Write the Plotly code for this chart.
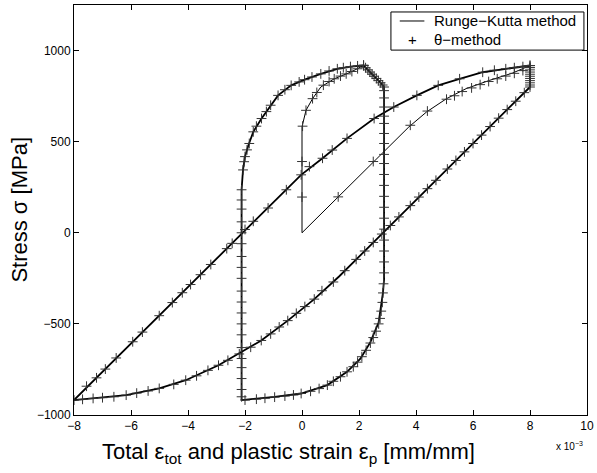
import plotly.graph_objects as go

# strain values in units of 1e-3 mm/mm, stress in MPa
# ---- Runge-Kutta line: initial loading (thin) ----
init_plastic_x = [0, 0, 0.14, 0.37, 0.66, 1.13, 1.70, 2.16]
init_plastic_y = [0, 581, 672, 736, 800, 845, 881, 918]
init_total_x = [0, 3.75, 4.37, 5.07, 5.76, 6.57, 7.38, 8.0]
init_total_y = [0, 581, 663, 736, 791, 836, 876, 918]

# ---- hold (relaxation) at max strain ----
hold_plastic_x = [2.16, 2.23, 2.31, 2.38, 2.46, 2.53, 2.61, 2.68, 2.76, 2.83, 2.88]
hold_plastic_y = [918, 906, 894, 882, 870, 859, 847, 835, 823, 811, 800]
hold_total_x = [8.0, 8.0, 8.0, 8.0, 8.0, 8.0, 8.0, 8.0, 8.0, 8.0, 8.0]
hold_total_y = [918, 906, 894, 882, 870, 859, 847, 835, 823, 811, 800]

# ---- unloading / compression ----
unl_plastic_x = [2.88, 2.88, 2.84, 2.80, 2.69, 2.40, 2.05, 1.58, 0.89, -0.03, -0.96, -2.12]
unl_plastic_y = [800, -255, -330, -382, -491, -600, -691, -763, -836, -882, -900, -918]
unl_total_x = [8.0, 1.3, 0.43, -0.5, -1.43, -2.93, -4.08, -5.01, -6.17, -7.33, -8.0]
unl_total_y = [800, -240, -364, -482, -591, -727, -809, -854, -891, -909, -918]

# ---- reloading ----
rel_plastic_x = [-2.12, -2.12, -2.07, -2.0, -1.88, -1.71, -1.42, -1.1, -0.84, -0.38, 0.09, 0.66, 1.24, 1.70, 2.16]
rel_plastic_y = [-918, 236, 345, 418, 480, 554, 627, 700, 754, 809, 840, 872, 900, 912, 918]
rel_total_x = [-8.0, -0.55, -0.03, 0.72, 1.58, 2.53, 3.22, 4.03, 4.78, 5.53, 6.34, 7.15, 8.0]
rel_total_y = [-918, 236, 318, 409, 518, 627, 690, 754, 809, 845, 881, 900, 918]

# ---- theta-method markers ----
mk_init_plastic_x = [0, 0, 0.02, 0.14, 0.37, 0.52, 0.75, 0.95, 1.13, 1.35, 1.55, 1.75, 1.95, 2.16]
mk_init_plastic_y = [196, 391, 585, 672, 736, 770, 810, 830, 845, 860, 872, 885, 900, 918]
mk_init_total_x = [1.27, 2.5, 3.8, 4.4, 5.07, 5.35, 5.62, 5.95, 6.25, 6.55, 6.85, 7.15, 7.45, 7.75, 8.0]
mk_init_total_y = [197, 391, 590, 668, 733, 752, 775, 795, 813, 830, 845, 860, 875, 890, 908]

mk_unl_plastic_x = [2.88, 2.88, 2.88, 2.88, 2.88, 2.88, 2.88, 2.88, 2.88, 2.88, 2.88, 2.88, 2.88, 2.88,
                    2.88, 2.88, 2.88, 2.88, 2.88, 2.86, 2.84, 2.82, 2.78, 2.74, 2.69, 2.6, 2.5, 2.4,
                    2.25, 2.1, 1.95, 1.8, 1.58, 1.35, 1.1, 0.89, 0.6, 0.3, -0.03, -0.3, -0.6, -0.96,
                    -1.3, -1.6, -2.0]
mk_unl_plastic_y = [780, 740, 690, 640, 600, 545, 490, 430, 380, 320, 260, 200, 140, 80,
                    20, -40, -100, -160, -220, -280, -330, -382, -430, -470, -500, -540, -575, -605,
                    -645, -680, -710, -735, -763, -790, -815, -836, -855, -870, -882, -890, -896, -902,
                    -908, -913, -918]
mk_unl_total_x = [7.8, 7.5, 7.2, 6.9, 6.6, 6.3, 6.0, 5.7, 5.4, 5.1, 4.7, 4.4, 4.1, 3.8, 3.4, 3.1,
                  2.8, 2.5, 2.2, 1.9, 1.5, 1.1, 0.7, 0.43, 0.1, -0.2, -0.5, -0.8, -1.1, -1.43, -1.8,
                  -2.2, -2.6, -2.93, -3.3, -3.7, -4.08, -4.5, -5.01, -5.4, -5.8, -6.17, -6.6, -7.0,
                  -7.33, -7.7, -8.0]
mk_unl_total_y = [769, 722, 676, 629, 583, 536, 490, 444, 397, 350, 288, 242, 196, 149, 87, 40,
                  -7, -53, -100, -146, -208, -270, -318, -364, -405, -442, -482, -517, -555, -591, -628,
                  -665, -700, -727, -755, -785, -809, -832, -854, -868, -880, -891, -900, -905,
                  -909, -914, -918]

mk_rel_plastic_x = [-2.12, -2.12, -2.12, -2.12, -2.12, -2.12, -2.12, -2.12, -2.12, -2.12, -2.12,
                    -2.12, -2.12, -2.12, -2.12, -2.12, -2.12, -2.12, -2.12, -2.12, -2.07, -2.03,
                    -2.0, -1.93, -1.85, -1.71, -1.6, -1.42, -1.25, -1.1, -0.84, -0.6, -0.38, -0.1,
                    0.09, 0.35, 0.66, 0.95, 1.24, 1.45, 1.70, 1.95, 2.16]
mk_rel_plastic_y = [-900, -860, -800, -740, -690, -630, -560, -500, -440, -380, -320,
                    -250, -190, -130, -60, 0, 60, 130, 180, 236, 345, 390,
                    418, 455, 490, 554, 585, 627, 665, 700, 754, 785, 809, 828,
                    840, 855, 872, 888, 900, 906, 912, 916, 920]
mk_rel_total_x = [-7.56, -7.21, -6.9, -6.52, -5.94, -5.6, -5.01, -4.55, -4.2, -3.91, -3.56, -3.2,
                  -2.64, -2.45, -2.0, -1.71, -1.19, -0.55, -0.03, 0.26, 0.72, 1.06, 1.58, 2.53,
                  3.22, 4.03, 4.78, 5.53, 6.34, 6.75, 7.15, 7.45, 7.75, 8.0]
mk_rel_total_y = [-842, -796, -748, -687, -598, -545, -455, -383, -329, -284, -230, -174,
                  -87, -58, 18, 63, 136, 236, 318, 363, 409, 454, 518, 627,
                  690, 754, 809, 845, 881, 892, 900, 906, 912, 918]

mk_hold_x = hold_plastic_x + hold_total_x
mk_hold_y = hold_plastic_y + hold_total_y

x_ticks = [-8, -6, -4, -2, 0, 2, 4, 6, 8, 10]
y_ticks = [-1000, -500, 0, 500, 1000]
legend_labels = ["Runge\u2212Kutta method", "\u03b8\u2212method"]


def join(*segs):
    xs, ys = [], []
    for sx, sy in segs:
        xs += list(sx) + [None]
        ys += list(sy) + [None]
    return xs, ys


FONT = "Liberation Sans, Arial, Helvetica"

fig = go.Figure()

lx, ly = join((init_plastic_x, init_plastic_y), (init_total_x, init_total_y))
fig.add_trace(go.Scatter(x=lx, y=ly, mode="lines", name=legend_labels[0], showlegend=False,
                         line=dict(color="black", width=1)))

cx, cy = join((hold_plastic_x, hold_plastic_y), (hold_total_x, hold_total_y),
              (unl_plastic_x, unl_plastic_y), (unl_total_x, unl_total_y),
              (rel_plastic_x, rel_plastic_y), (rel_total_x, rel_total_y))
fig.add_trace(go.Scatter(x=cx, y=cy, mode="lines", showlegend=False, name=legend_labels[0],
                         line=dict(color="black", width=1.8)))

mx = (mk_init_plastic_x + mk_init_total_x + mk_unl_plastic_x + mk_unl_total_x
      + mk_rel_plastic_x + mk_rel_total_x + mk_hold_x)
my = (mk_init_plastic_y + mk_init_total_y + mk_unl_plastic_y + mk_unl_total_y
      + mk_rel_plastic_y + mk_rel_total_y + mk_hold_y)
fig.add_trace(go.Scatter(x=mx, y=my, mode="markers", name=legend_labels[1], showlegend=False,
                         marker=dict(symbol="cross-thin", size=7, color="#333",
                                     line=dict(color="#333", width=1))))

axis_common = dict(showgrid=False, zeroline=False, showline=True, linecolor="black",
                   linewidth=1, mirror="ticks", ticks="inside", ticklen=5,
                   tickcolor="black", ticklabeloverflow="allow",
                   tickfont=dict(size=12, color="black", family=FONT))

fig.update_xaxes(range=[-8, 10], tickvals=x_ticks,
                 ticktext=[str(v).replace("-", "\u2212") for v in x_ticks],
                 **axis_common)
fig.update_yaxes(range=[-1000, 1250], tickvals=y_ticks,
                 ticktext=[str(v).replace("-", "\u2212") for v in y_ticks],
                 **axis_common)

# axis labels
fig.add_annotation(x=0.419, y=0, xref="paper", yref="paper", xanchor="center", yanchor="middle",
                   yshift=-38, showarrow=False,
                   text="Total \u03b5<sub>tot</sub> and plastic strain \u03b5<sub>p</sub> [mm/mm]",
                   font=dict(size=22, color="black", family=FONT))
fig.add_annotation(x=-0.108, y=0.5, xref="paper", yref="paper", xanchor="center", yanchor="middle",
                   textangle=-90, showarrow=False,
                   text="Stress \u03c3 [MPa]",
                   font=dict(size=22, color="black", family=FONT))
fig.add_annotation(x=1.0, y=0, xref="paper", yref="paper", xanchor="right", yanchor="top",
                   yshift=-23, xshift=-2, showarrow=False,
                   text="x 10<sup>\u22123</sup>",
                   font=dict(size=10, color="black", family=FONT))

# legend box (MATLAB style)
fig.add_shape(type="rect", xref="paper", yref="paper", x0=0.6178, x1=0.994, y0=0.890, y1=0.983,
              line=dict(color="black", width=1), fillcolor="white", layer="above")
fig.add_shape(type="line", xref="paper", yref="paper", x0=0.635, x1=0.683, y0=0.961, y1=0.961,
              line=dict(color="black", width=1), layer="above")
fig.add_annotation(x=0.659, y=0.915, xref="paper", yref="paper", xanchor="center", yanchor="middle",
                   showarrow=False, text="+", font=dict(size=15, color="black", family=FONT))
fig.add_annotation(x=0.697, y=0.961, xref="paper", yref="paper", xanchor="left", yanchor="middle",
                   showarrow=False, text=legend_labels[0],
                   font=dict(size=15, color="black", family=FONT))
fig.add_annotation(x=0.697, y=0.915, xref="paper", yref="paper", xanchor="left", yanchor="middle",
                   showarrow=False, text=legend_labels[1],
                   font=dict(size=15, color="black", family=FONT))

fig.update_layout(
    width=597, height=473,
    margin=dict(l=74, r=3, t=5, b=58),
    plot_bgcolor="white", paper_bgcolor="white",
    font=dict(family=FONT, color="black"),
    showlegend=False,
)

fig.write_html("out.html", config={"displayModeBar": False},
               post_script="document.body.style.margin='0px';document.body.style.overflow='hidden';")
